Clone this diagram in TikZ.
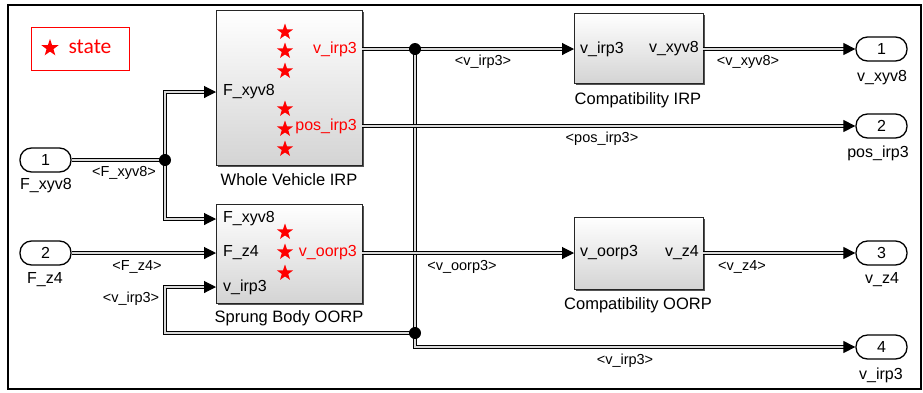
\documentclass[tikz,border=0pt]{standalone}
\usepackage{fontspec}
\setmainfont{Liberation Sans}
\newfontfamily\legendfont{Carlito}
\usetikzlibrary{arrows.meta,shapes.geometric,shadows}
\tikzset{
  blk/.style={draw=black!85, line width=0.9pt, top color=white, bottom color=black!17,
    anchor=north west, inner sep=0pt,
    drop shadow={shadow xshift=1.6pt, shadow yshift=-1.6pt, fill=black!75, opacity=0.9}},
  port/.style={draw=black, line width=1.3pt, rounded corners=11.5pt, minimum width=51pt,
    minimum height=24pt, inner sep=0pt, fill=white, font=\fontsize{16}{18}\selectfont},
  ptxt/.style={inner sep=0pt, font=\fontsize{16}{18}\selectfont},
  btxt/.style={inner sep=0pt, font=\fontsize{16.5}{19}\selectfont},
  stxt/.style={inner sep=0pt, font=\fontsize{14.5}{17}\selectfont},
  rtxt/.style={ptxt, text=red, anchor=east},
  sig/.style={draw=black, line width=1.1pt, double=black!15, double distance=1.1pt},
  sigar/.style={sig, -{Triangle[length=12pt,width=12pt]}},
  junc/.style={circle, fill=black, inner sep=0pt, minimum size=12pt},
  stardot/.style={star, star points=5, star point ratio=2.5, fill=red, draw=none,
    minimum size=17pt, inner sep=0pt},
}
\begin{document}
\begin{tikzpicture}[x=1pt,y=-1pt]
\useasboundingbox (0,0) rectangle (923,392);
% frame
\draw[line width=2pt] (8,5) rectangle (921,389);
% legend
\node[draw=red, line width=1pt, minimum width=98pt, minimum height=43pt, anchor=north west, inner sep=0pt] (legend) at (31,27) {};
\node[stardot, minimum size=18pt] (lstar) at (50,48) {};
\node[inner sep=0pt, text=red, font=\legendfont\fontsize{21.5}{24}\selectfont] (ltxt) at (90,47) {state};

% blocks
\node[blk, minimum width=146pt, minimum height=155pt] (wv) at (216,10) {};
\node[btxt] (wvlab) at (289,180) {Whole Vehicle IRP};
\node[blk, minimum width=146pt, minimum height=99pt] (sb) at (216,204) {};
\node[btxt] (sblab) at (289,318) {Sprung Body OORP};
\node[blk, minimum width=129pt, minimum height=70pt] (ci) at (574,13) {};
\node[btxt] (cilab) at (638,100) {Compatibility IRP};
\node[blk, minimum width=129pt, minimum height=72pt] (co) at (574,217) {};
\node[btxt] (colab) at (638,305) {Compatibility OORP};

% block port texts
\node[ptxt, anchor=west] (wvin) at (223,92) {F\_xyv8};
\node[rtxt] (wvo1) at (357,49) {v\_irp3};
\node[rtxt] (wvo2) at (357,126) {pos\_irp3};
\foreach \yy [count=\i] in {32,51,71,109,129,149}
  \node[stardot] (ws\i) at (285,\yy) {};
\node[ptxt, anchor=west] (sbin1) at (223,219) {F\_xyv8};
\node[ptxt, anchor=west] (sbin2) at (223,253) {F\_z4};
\node[ptxt, anchor=west] (sbin3) at (223,287) {v\_irp3};
\node[rtxt] (sbo) at (357,253) {v\_oorp3};
\foreach \yy [count=\i] in {232,252,273}
  \node[stardot] (ss\i) at (285,\yy) {};
\node[ptxt, anchor=west] (ciin) at (580,49) {v\_irp3};
\node[ptxt, anchor=east] (ciout) at (699,49) {v\_xyv8};
\node[ptxt, anchor=west] (coin) at (580,253) {v\_oorp3};
\node[ptxt, anchor=east] (coout) at (699,253) {v\_z4};

% connection points on blocks
\coordinate (wvI) at (216,92);
\coordinate (wvO1) at (362,49);
\coordinate (wvO2) at (362,126);
\coordinate (sbI1) at (216,219);
\coordinate (sbI2) at (216,253);
\coordinate (sbI3) at (216,287);
\coordinate (sbO) at (362,253);
\coordinate (ciI) at (574,49);
\coordinate (ciO) at (703,49);
\coordinate (coI) at (574,253);
\coordinate (coO) at (703,253);

% in/out ports
\node[port] (in1) at (45.5,160) {1};
\node[ptxt] (in1l) at (46,186) {F\_xyv8};
\node[port] (in2) at (45.5,253) {2};
\node[ptxt] (in2l) at (45,280) {F\_z4};
\node[port] (out1) at (881.5,49) {1};
\node[ptxt] (out1l) at (882,78) {v\_xyv8};
\node[port] (out2) at (881.5,126) {2};
\node[ptxt] (out2l) at (878,153) {pos\_irp3};
\node[port] (out3) at (881.5,253) {3};
\node[ptxt] (out3l) at (882,280) {v\_z4};
\node[port] (out4) at (881.5,347) {4};
\node[ptxt] (out4l) at (881,375) {v\_irp3};

% junction coordinates
\coordinate (j1) at (165,160);
\coordinate (j2) at (415,49);
\coordinate (j3) at (415,333);

% signals
\draw[sig] (in1.east) -- (j1);
\draw[sigar] (j1) |- (wvI);
\draw[sigar] (j1) |- (sbI1);
\draw[sigar] (in2.east) -- (sbI2);
\draw[sig] (wvO1) -- (j2);
\draw[sigar] (j2) -- (ciI);
\draw[sig] (j2) -- (j3);
\draw[sigar] (j3) -- (165,333) -- (165,287) -- (sbI3);
\draw[sigar] (j3) |- (out4.west);
\draw[sigar] (wvO2) -- (out2.west);
\draw[sigar] (sbO) -- (coI);
\draw[sigar] (ciO) -- (out1.west);
\draw[sigar] (coO) -- (out3.west);

\node[junc] (J1) at (j1) {};
\node[junc] (J2) at (j2) {};
\node[junc] (J3) at (j3) {};

% signal labels
\node[stxt] (l1) at (124,173) {<F\_xyv8>};
\node[stxt] (l2) at (137,267) {<F\_z4>};
\node[stxt] (l3) at (131,299) {<v\_irp3>};
\node[stxt] (l4) at (483,62) {<v\_irp3>};
\node[stxt] (l5) at (602,139) {<pos\_irp3>};
\node[stxt] (l6) at (748,62) {<v\_xyv8>};
\node[stxt] (l7) at (462,267) {<v\_oorp3>};
\node[stxt] (l8) at (742,267) {<v\_z4>};
\node[stxt] (l9) at (625,361) {<v\_irp3>};
\end{tikzpicture}
\end{document}
